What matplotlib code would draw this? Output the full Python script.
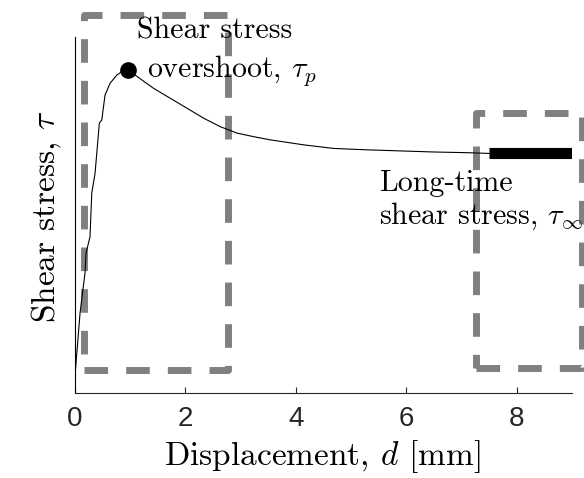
import matplotlib
matplotlib.use("Agg")
import matplotlib.pyplot as plt

plt.rcParams['mathtext.fontset'] = 'cm'

# Data (normalized shear stress vs displacement in mm)
disp = [0.0, 0.091, 0.181, 0.200, 0.272, 0.303, 0.363, 0.394, 0.441, 0.485, 0.544,
        0.635, 0.757, 0.877, 0.967, 1.089, 1.421, 1.724, 2.027, 2.329, 2.632, 2.935,
        3.236, 3.539, 3.842, 4.143, 4.682, 5.294, 5.898, 6.497, 7.109, 7.495, 8.2, 9.0]
tau = [0.048, 0.224, 0.337, 0.393, 0.439, 0.561, 0.617, 0.673, 0.758, 0.767, 0.837,
       0.870, 0.893, 0.906, 0.906, 0.893, 0.856, 0.828, 0.800, 0.772, 0.748, 0.730,
       0.720, 0.711, 0.704, 0.697, 0.687, 0.683, 0.680, 0.677, 0.675, 0.673, 0.673, 0.673]
peak_d, peak_tau = 0.967, 0.906
longtime_d = [7.5, 9.0]
longtime_tau = [0.673, 0.673]
box1_x = [0.154, 2.77]
box1_y = [0.065, 1.062]
box2_x = [7.26, 9.18]
box2_y = [0.069, 0.786]
xticks = [0, 2, 4, 6, 8]

fig = plt.figure(figsize=(5.84, 4.78), dpi=100)
ax = fig.add_axes([75/584, (478-393)/478, (572-75)/584, (393-37)/478])

serif = 'cmr10'
gray = '#808080'

def rect(xr, yr):
    xs = [xr[0], xr[1], xr[1], xr[0], xr[0]]
    ys = [yr[0], yr[0], yr[1], yr[1], yr[0]]
    ax.plot(xs, ys, color=gray, lw=5.0, dashes=(3.4, 2.6),
            clip_on=False, solid_joinstyle='round', dash_joinstyle='round', zorder=1)

rect(box1_x, box1_y)
rect(box2_x, box2_y)

ax.plot(disp, tau, color='black', lw=0.8, zorder=2)
ax.plot(longtime_d, longtime_tau, color='black', lw=8, solid_capstyle='butt', zorder=3)
ax.plot([peak_d], [peak_tau], 'o', color='black', ms=11, zorder=4)

ax.set_xlim(0, 9)
ax.set_ylim(0, 1)
ax.set_xticks(xticks)
ax.set_xticklabels([str(t) for t in xticks], fontfamily='Liberation Sans', fontsize=20,
                   color='#262626')
ax.set_yticks([])
ax.tick_params(axis='x', direction='in', length=4, width=0.8, color='#262626', pad=9.5)
for s in ['top', 'right']:
    ax.spines[s].set_visible(False)
for s in ['left', 'bottom']:
    ax.spines[s].set_linewidth(0.8)
ax.spines['bottom'].set_color('#262626')

fig.text(322/584, 1-465/478, r'Displacement, $d$ [mm]', fontfamily=serif, fontsize=24,
         ha='center', va='baseline')
fig.text(46/584, 1-216.7/478, r'Shear stress, $\tau$', fontfamily=serif, fontsize=24,
         ha='center', va='center', rotation=90)

fs = 21.6
ax.text((137-75)/55.1, (393-38)/356, 'Shear stress', fontfamily=serif, fontsize=fs,
        ha='left', va='baseline', clip_on=False)
ax.text((147-75)/55.1, (393-77)/356, r'overshoot, $\tau_p$', fontfamily=serif, fontsize=fs,
        ha='left', va='baseline', clip_on=False)
ax.text((378-75)/55.1, (393-191)/356, 'Long-time', fontfamily=serif, fontsize=fs,
        ha='left', va='baseline', clip_on=False)
ax.text((378-75)/55.1, (393-224)/356, r'shear stress, $\tau_\infty$', fontfamily=serif,
        fontsize=fs, ha='left', va='baseline', clip_on=False)

fig.savefig('out.png', dpi=100)
